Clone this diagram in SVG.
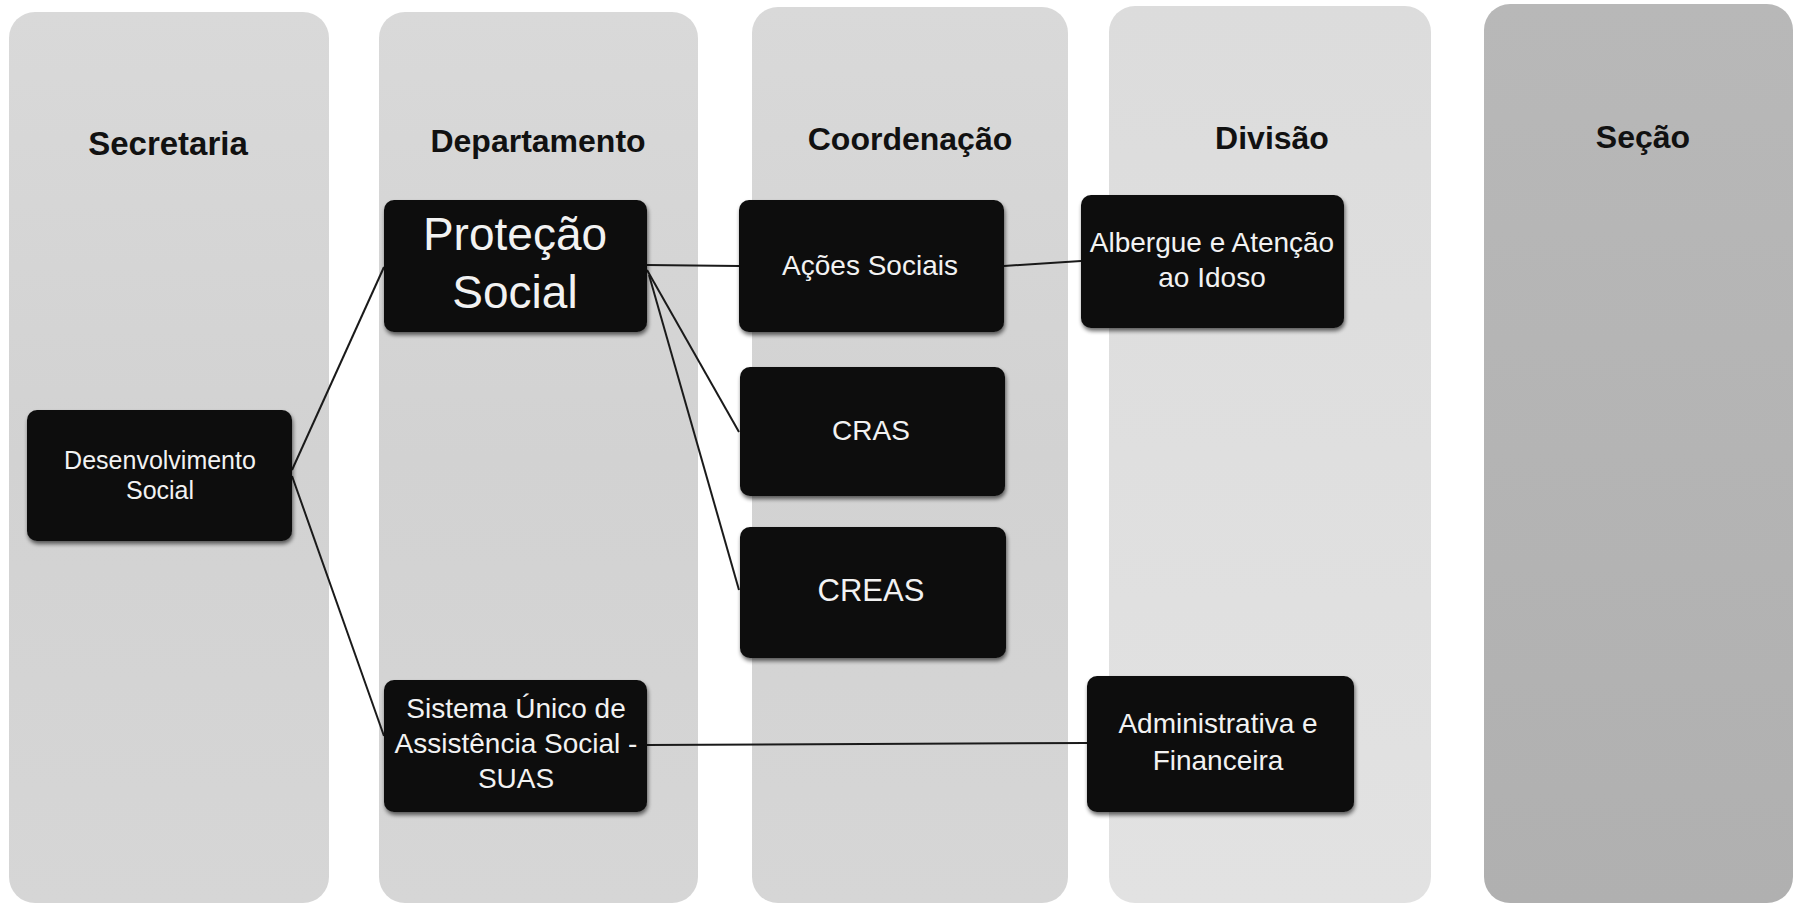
<svg xmlns="http://www.w3.org/2000/svg" width="1797" height="905" viewBox="0 0 1797 905">
<style>
.col{stroke:none}
.hdr{font-family:"Liberation Sans",Arial,sans-serif;font-weight:bold;font-size:32px;fill:#111;text-anchor:middle}
.box{fill:#0d0d0d;filter:url(#sh)}
.lbl{font-family:"Liberation Sans",Arial,sans-serif;font-size:28px;fill:#f2f2f2;text-anchor:middle}
.conn line{stroke:#1a1a1a;stroke-width:2;fill:none}
</style>
<defs>
<linearGradient id="g1" x1="0" y1="0" x2="0" y2="1">
<stop offset="0" stop-color="#d9d9d9"/><stop offset="0.5" stop-color="#d2d2d2"/><stop offset="1" stop-color="#d6d6d6"/>
</linearGradient>
<linearGradient id="g4" x1="0" y1="0" x2="0" y2="1">
<stop offset="0" stop-color="#dcdcdc"/><stop offset="1" stop-color="#e2e2e2"/>
</linearGradient>
<linearGradient id="g5" x1="0" y1="0" x2="0" y2="1">
<stop offset="0" stop-color="#b8b8b8"/><stop offset="1" stop-color="#b0b0b0"/>
</linearGradient>
<filter id="sh" x="-10%" y="-10%" width="125%" height="125%">
<feGaussianBlur in="SourceAlpha" stdDeviation="2"/>
<feOffset dx="1" dy="3" result="b"/>
<feComponentTransfer><feFuncA type="linear" slope="0.6"/></feComponentTransfer>
<feMerge><feMergeNode/><feMergeNode in="SourceGraphic"/></feMerge>
</filter>
</defs>
<rect width="1797" height="905" fill="#ffffff"/>
<g id="columns">
<rect class="col" x="9" y="12" width="320" height="891" rx="26" fill="url(#g1)"/>
<rect class="col" x="379" y="12" width="319" height="891" rx="26" fill="url(#g1)"/>
<rect class="col" x="752" y="7" width="316" height="896" rx="26" fill="url(#g1)"/>
<rect class="col" x="1109" y="6" width="322" height="897" rx="26" fill="url(#g4)"/>
<rect class="col" x="1484" y="4" width="309" height="899" rx="26" fill="url(#g5)"/>
</g>
<g id="headers">
<text class="hdr" x="168" y="155" style="font-size:33px">Secretaria</text>
<text class="hdr" x="538" y="152">Departamento</text>
<text class="hdr" x="910" y="150">Coordenação</text>
<text class="hdr" x="1272" y="149">Divisão</text>
<text class="hdr" x="1643" y="148">Seção</text>
</g>
<g class="conn" id="connectors">
<line x1="292" y1="470" x2="384" y2="267"/>
<line x1="292" y1="476" x2="384" y2="736"/>
<line x1="647" y1="265" x2="739" y2="266"/>
<line x1="647" y1="270" x2="739" y2="432"/>
<line x1="649" y1="275" x2="739" y2="590"/>
<line x1="1004" y1="266" x2="1081" y2="261"/>
<line x1="647" y1="745" x2="1087" y2="743"/>
</g>
<g id="n-desenvolvimento">
<rect class="box" x="27" y="410" width="265" height="131" rx="10"/>
<text class="lbl" x="160" y="469" style="font-size:25px">Desenvolvimento</text>
<text class="lbl" x="160" y="499" style="font-size:25px">Social</text>
</g>
<g id="n-protecao">
<rect class="box" x="384" y="200" width="263" height="132" rx="10"/>
<text class="lbl" x="515" y="250" style="font-size:46px">Proteção</text>
<text class="lbl" x="515" y="308" style="font-size:46px">Social</text>
</g>
<g id="n-suas">
<rect class="box" x="384" y="680" width="263" height="132" rx="10"/>
<text class="lbl" x="516" y="718">Sistema Único de</text>
<text class="lbl" x="516" y="753">Assistência Social -</text>
<text class="lbl" x="516" y="788">SUAS</text>
</g>
<g id="n-acoes">
<rect class="box" x="739" y="200" width="265" height="132" rx="10"/>
<text class="lbl" x="870" y="275">Ações Sociais</text>
</g>
<g id="n-cras">
<rect class="box" x="740" y="367" width="265" height="129" rx="10"/>
<text class="lbl" x="871" y="440">CRAS</text>
</g>
<g id="n-creas">
<rect class="box" x="740" y="527" width="266" height="131" rx="10"/>
<text class="lbl" x="871" y="601" style="font-size:31px">CREAS</text>
</g>
<g id="n-albergue">
<rect class="box" x="1081" y="195" width="263" height="133" rx="10"/>
<text class="lbl" x="1212" y="252">Albergue e Atenção</text>
<text class="lbl" x="1212" y="287">ao Idoso</text>
</g>
<g id="n-administrativa">
<rect class="box" x="1087" y="676" width="267" height="136" rx="10"/>
<text class="lbl" x="1218" y="733">Administrativa e</text>
<text class="lbl" x="1218" y="770">Financeira</text>
</g>
</svg>
